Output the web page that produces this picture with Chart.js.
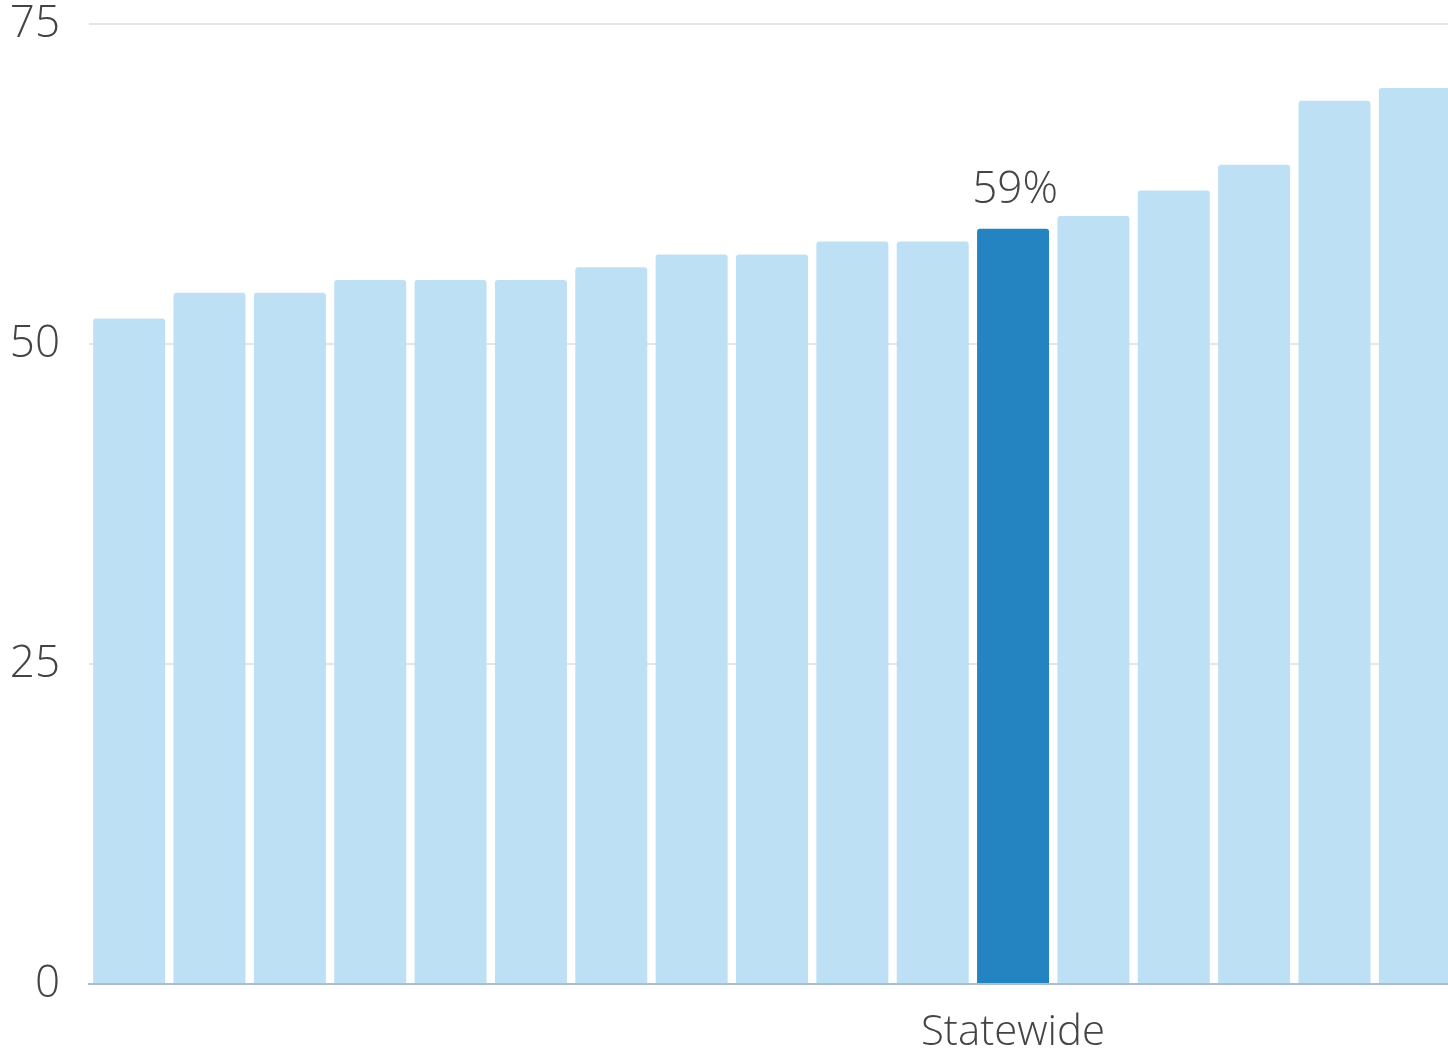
<!DOCTYPE html>
<html>
<head>
<meta charset="utf-8">
<title>Statewide</title>
<script src="https://cdn.jsdelivr.net/npm/chart.js@4/dist/chart.umd.min.js"></script>
<style>
  html, body { margin: 0; padding: 0; background: #fff; overflow: hidden; }
  #wrap { width: 1456px; height: 1052px; }
</style>
</head>
<body>
<div id="wrap"><canvas id="chart" width="1456" height="1052"></canvas></div>
<script>
// ------------------- DATA -------------------
const labels = ["", "", "", "", "", "", "", "", "", "", "", "Statewide", "", "", "", "", ""];
const values = [52, 54, 54, 55, 55, 55, 56, 57, 57, 58, 58, 59, 60, 62, 64, 69, 70];
const yTicks = [0, 25, 50, 75];
const highlightIndex = 11;

const lightBlue = "#bee0f4";
const darkBlue = "#2484c1";
const textColor = "#444444";

// value label above the statewide bar
const valueLabel = {
  id: "valueLabel",
  afterDatasetsDraw(chart) {
    const bar = chart.getDatasetMeta(0).data[highlightIndex];
    const ctx = chart.ctx;
    ctx.save();
    ctx.font = "300 44px 'Open Sans'";
    ctx.fillStyle = textColor;
    ctx.textAlign = "center";
    ctx.textBaseline = "alphabetic";
    ctx.fillText(values[highlightIndex] + "%", bar.x + 2, bar.y - 26);
    ctx.restore();
  }
};

new Chart(document.getElementById("chart"), {
  type: "bar",
  data: {
    labels: labels,
    datasets: [{
      data: values,
      backgroundColor: values.map((_, i) => i === highlightIndex ? darkBlue : lightBlue),
      borderRadius: { topLeft: 3, topRight: 3 },
      borderSkipped: "bottom",
      categoryPercentage: 1,
      barPercentage: 0.896
    }]
  },
  options: {
    responsive: false,
    animation: false,
    devicePixelRatio: 1,
    layout: { padding: { top: 24, right: 1, bottom: 0, left: 0 } },
    plugins: {
      legend: { display: false },
      tooltip: { enabled: false }
    },
    scales: {
      x: {
        grid: { display: false, drawTicks: false },
        border: { display: true, color: "#a9bfd0", width: 2 },
        ticks: {
          autoSkip: false,
          maxRotation: 0,
          padding: 24,
          color: textColor,
          font: { family: "'Open Sans'", size: 42, weight: 300 }
        },
        afterFit(scale) {
          scale.height = 68;
          scale.paddingLeft = 0;
          scale.paddingRight = 0;
        }
      },
      y: {
        min: 0,
        max: 75,
        afterBuildTicks(scale) { scale.ticks = yTicks.map(v => ({ value: v })); },
        grid: { color: "#e6e6e6", lineWidth: 2, drawTicks: false },
        border: { display: false },
        ticks: {
          padding: 29,
          color: textColor,
          font: { family: "'Open Sans'", size: 44, weight: 300 }
        },
        afterFit(scale) {
          scale.width = 89;
          scale.paddingTop = 0;
          scale.paddingBottom = 0;
        }
      }
    }
  },
  plugins: [valueLabel]
});
</script>
</body>
</html>
